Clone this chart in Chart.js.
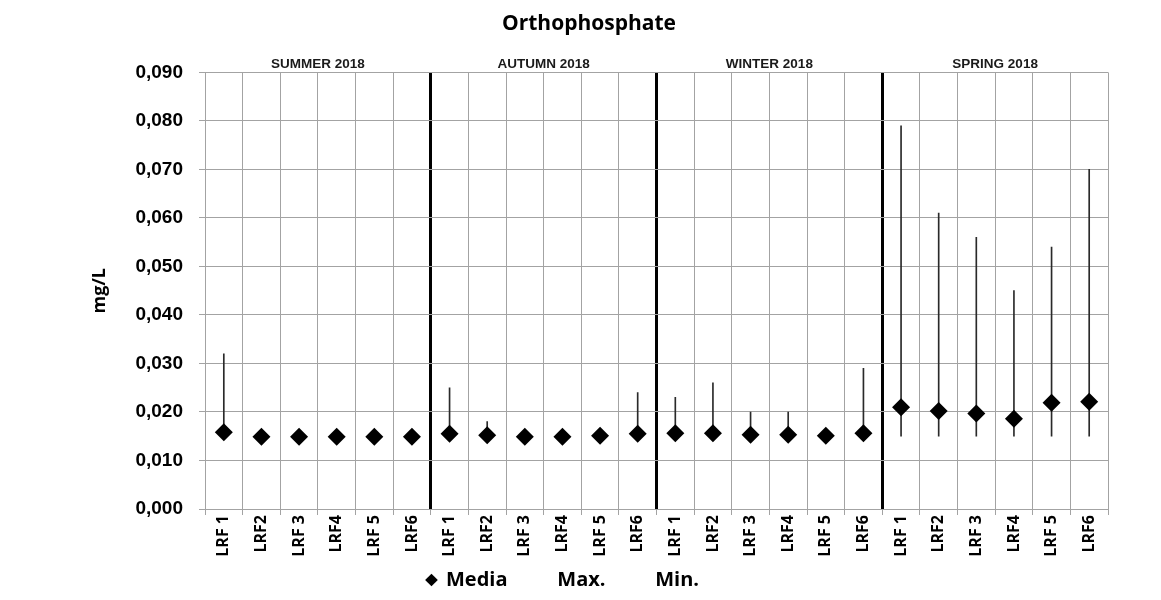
<!DOCTYPE html>
<html>
<head>
<meta charset="utf-8">
<script src="https://cdn.jsdelivr.net/npm/chart.js@4/dist/chart.umd.min.js"></script>
<style>
  body { margin: 0; background: #fff; }
  #wrap { width: 1161px; height: 600px; }
</style>
</head>
<body>
<div id="wrap"><canvas id="grafico"></canvas></div>
<script>
// estações e períodos
const stations = ['LRF 1', 'LRF2', 'LRF 3', 'LRF4', 'LRF 5', 'LRF6'];
const seasons = ['SUMMER 2018', 'AUTUMN 2018', 'WINTER 2018', 'SPRING 2018'];
const yTicks = [0, 0.01, 0.02, 0.03, 0.04, 0.05, 0.06, 0.07, 0.08, 0.09];

// valores (mg/L)
const mediaVals = [
  0.0158, 0.0149, 0.0149, 0.0149, 0.0149, 0.0149,
  0.0155, 0.0152, 0.0149, 0.0149, 0.0151, 0.0155,
  0.0156, 0.0156, 0.0153, 0.0153, 0.0151, 0.0156,
  0.0210, 0.0202, 0.0197, 0.0186, 0.0219, 0.0221
];
const maxVals = [
  0.032, 0.015, 0.015, 0.015, 0.015, 0.015,
  0.025, 0.018, 0.015, 0.015, 0.015, 0.024,
  0.023, 0.026, 0.020, 0.020, 0.016, 0.029,
  0.079, 0.061, 0.056, 0.045, 0.054, 0.070
];
const minVals = [
  0.015, 0.015, 0.015, 0.015, 0.015, 0.015,
  0.015, 0.015, 0.015, 0.015, 0.015, 0.015,
  0.015, 0.015, 0.015, 0.015, 0.015, 0.015,
  0.015, 0.015, 0.015, 0.015, 0.015, 0.015
];

const labels = [];
seasons.forEach(function() { stations.forEach(function(s) { labels.push(s); }); });
const faixa = maxVals.map(function(m, i) { return [minVals[i], m]; });

const gridGray = '#a3a3a3';

new Chart(document.getElementById('grafico'), {
  type: 'bar',
  data: {
    labels: labels,
    datasets: [
      {
        type: 'line',
        label: 'Media',
        data: mediaVals,
        showLine: false,
        pointStyle: 'rectRot',
        pointRadius: 9,
        pointHoverRadius: 9,
        pointBackgroundColor: '#000',
        pointBorderColor: '#000',
        pointBorderWidth: 0
      },
      {
        label: 'Max-Min',
        data: faixa,
        backgroundColor: '#2a2a2a',
        borderWidth: 0,
        barThickness: 1
      }
    ]
  },
  options: {
    responsive: true,
    maintainAspectRatio: false,
    animation: false,
    layout: { padding: { left: 70, right: 53, top: 0, bottom: 0 } },
    plugins: {
      title: {
        display: true,
        text: 'Orthophosphate',
        color: '#000',
        font: { family: 'Open Sans', size: 21, weight: 'bold' },
        padding: { top: 11, bottom: 20 }
      },
      legend: {
        position: 'bottom',
        labels: {
          color: '#000',
          font: { family: 'Open Sans', size: 20, weight: 'bold' },
          usePointStyle: true,
          boxWidth: 9,
          boxHeight: 9,
          padding: 10,
          generateLabels: function() {
            return [
              { text: 'Media', pointStyle: 'rectRot', fillStyle: '#000', strokeStyle: '#000', lineWidth: 0, datasetIndex: 0 },
              { text: '    Max.', pointStyle: 'line', fillStyle: 'rgba(0,0,0,0)', strokeStyle: 'rgba(0,0,0,0)', lineWidth: 0, datasetIndex: 1 },
              { text: '    Min.          ', pointStyle: 'line', fillStyle: 'rgba(0,0,0,0)', strokeStyle: 'rgba(0,0,0,0)', lineWidth: 0, datasetIndex: 1 }
            ];
          }
        }
      },
      tooltip: { enabled: false }
    },
    scales: {
      x: {
        type: 'category',
        offset: true,
        afterFit: function(scale) { scale.height = 51; },
        grid: { offset: true, color: gridGray, lineWidth: 1, tickLength: 6 },
        border: { color: gridGray },
        ticks: {
          color: '#000',
          autoSkip: false,
          minRotation: 90,
          maxRotation: 90,
          padding: 0,
          font: { family: 'Open Sans', size: 16, weight: 'bold' }
        }
      },
      x2: {
        type: 'category',
        position: 'top',
        labels: seasons,
        offset: true,
        z: 1,
        grid: {
          offset: true,
          drawTicks: false,
          lineWidth: 3,
          color: function(ctx) {
            return (ctx.index > 0 && ctx.index < seasons.length) ? '#000' : 'rgba(0,0,0,0)';
          }
        },
        border: { display: false },
        ticks: {
          color: '#1a1a1a',
          padding: 0,
          font: { family: 'Liberation Sans', size: 13.5, weight: 'bold' }
        }
      },
      y: {
        min: 0,
        max: 0.09,
        afterBuildTicks: function(scale) {
          scale.ticks = yTicks.map(function(v) { return { value: v }; });
        },
        afterFit: function(scale) { scale.width = 135; },
        grid: { color: gridGray, lineWidth: 1, tickLength: 6 },
        border: { color: gridGray },
        ticks: {
          color: '#000',
          padding: 16,
          font: { family: 'Liberation Sans', size: 19, weight: 'bold' },
          callback: function(v) { return Number(v).toFixed(3).replace('.', ','); }
        },
        title: {
          display: true,
          text: 'mg/L',
          color: '#000',
          padding: { top: 19, bottom: 0 },
          font: { family: 'Open Sans', size: 18, weight: 'bold' }
        }
      }
    }
  }
});
</script>
</body>
</html>
